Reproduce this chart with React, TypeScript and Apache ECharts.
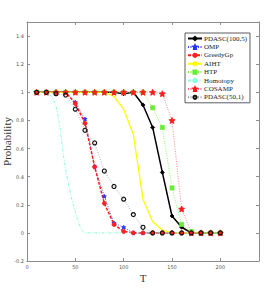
import React, { useEffect, useRef } from "react";
import * as echarts from "echarts";

const T = [10, 20, 30, 40, 50, 60, 70, 80, 90, 100, 110, 120, 130, 140, 150, 160, 170, 180, 190, 200];
const pdasc1005 = [1, 1, 1, 1, 1, 1, 1, 1, 1, 0.99, 1, 0.91, 0.75, 0.43, 0.12, 0.04, 0, 0, 0, 0];
const omp = [1, 1, 1, 1, 0.93, 0.81, 0.47, 0.26, 0.07, 0.04, 0, 0, 0, 0, 0, 0, 0, 0, 0, 0];
const greedyGp = [1, 1, 1, 1, 0.92, 0.78, 0.47, 0.21, 0.06, 0.01, 0, 0, 0, 0, 0, 0, 0, 0, 0, 0];
const aiht = [1, 1, 1, 1, 1, 1, 1, 1, 0.97, 0.88, 0.7, 0.24, 0.08, 0.02, 0, 0, 0, 0, 0, 0];
const htp = [1, 1, 1, 1, 1, 1, 1, 1, 1, 1, 1, 1, 0.89, 0.75, 0.32, 0.06, 0.01, 0, 0, 0];
const homotopy = [1, 1, 0.9, 0.45, 0.15, 0, 0, 0, 0, 0, 0, 0, 0, 0, 0, 0, 0, 0, 0, 0];
const cosamp = [1, 1, 1, 1, 1, 1, 1, 1, 1, 1, 1, 1, 1, 0.99, 0.8, 0.17, 0, 0, 0, 0];
const pdasc501 = [1, 1, 0.99, 0.98, 0.88, 0.73, 0.64, 0.44, 0.33, 0.24, 0.13, 0.04, 0, 0, 0, 0, 0, 0, 0, 0];

const xTicks = [0, 50, 100, 150, 200];
const yTicks = [-0.2, 0, 0.2, 0.4, 0.6, 0.8, 1, 1.2, 1.4];

const pair = (ys: number[]) => T.map((t, i) => [t, ys[i]]);

export default function App() {
  const ref = useRef<HTMLDivElement>(null);
  useEffect(() => {
    if (!ref.current) return;
    const chart = echarts.init(ref.current, null, { renderer: "svg" });
    const serif = "Liberation Serif";
    const axisColor = "#8c8c8c";
    const baseX = {
      type: "value" as const,
      min: 0,
      max: 240,
      interval: 50,
      axisLine: { show: true, onZero: false, lineStyle: { color: axisColor, width: 1 } },
      axisTick: { show: true, inside: true, length: 3, lineStyle: { color: axisColor } },
      splitLine: { show: false },
    };
    const baseY = {
      type: "value" as const,
      min: -0.2,
      max: 1.5,
      interval: 0.2,
      axisLine: { show: true, onZero: false, lineStyle: { color: axisColor, width: 1 } },
      axisTick: { show: true, inside: true, length: 3, lineStyle: { color: axisColor } },
      splitLine: { show: false },
    };
    const star = "path://M0,-10L2.9,-4L9.5,-3.1L4.8,1.5L5.9,8.1L0,5L-5.9,8.1L-4.8,1.5L-9.5,-3.1L-2.9,-4Z";
    const mk = (
      name: string,
      ys: number[],
      color: string,
      lineType: any,
      width: number,
      symbol: string,
      size: number,
      mColor: string,
      filled = true,
      smooth: number | boolean = false
    ) => ({
      name,
      type: "line",
      data: pair(ys),
      smooth,
      symbol,
      symbolSize: size,
      showSymbol: symbol !== "none",
      lineStyle: { color, type: lineType, width },
      itemStyle: filled
        ? { color: mColor, borderColor: mColor, borderWidth: 0.8 }
        : { color: "rgba(255,255,255,0)", borderColor: mColor, borderWidth: 1.2 },
      color,
      z: 2,
    });
    chart.setOption({
      animation: false,
      backgroundColor: "#ffffff",
      grid: { left: 27, right: 16, top: 22, bottom: 34, containLabel: false, outerBoundsMode: "none" },
      xAxis: [
        {
          ...baseX,
          position: "bottom",
          axisLabel: {
            show: true,
            fontSize: 5,
            color: "#555",
            margin: 3,
            fontFamily: "DejaVu Sans",
            formatter: (v: number) => (xTicks.includes(v) ? String(v) : ""),
          },
          name: "T",
          nameLocation: "middle",
          nameGap: 11,
          nameMoveOverlap: false,
          nameTextStyle: { fontFamily: serif, fontSize: 11, color: "#333" },
        },
        { ...baseX, position: "top", axisLabel: { show: false } },
      ],
      yAxis: [
        {
          ...baseY,
          position: "left",
          axisLabel: {
            show: true,
            fontSize: 5,
            color: "#555",
            margin: 3,
            fontFamily: "DejaVu Sans",
            formatter: (v: number) => {
              const r = Math.round(v * 10) / 10;
              return yTicks.some((t) => Math.abs(t - r) < 1e-6) && Math.abs(v - r) < 1e-6 ? String(r) : "";
            },
          },
          name: "Probability",
          nameLocation: "middle",
          nameGap: 15,
          nameMoveOverlap: false,
          nameTextStyle: { fontFamily: serif, fontSize: 11, color: "#333" },
        },
        { ...baseY, position: "right", axisLabel: { show: false } },
      ],
      legend: {
        show: true,
        orient: "vertical",
        left: 185,
        top: 33,
        width: 66,
        itemWidth: 14,
        itemHeight: 4,
        itemGap: 1.4,
        padding: [2, 3, 2, 2],
        backgroundColor: "#fff",
        borderColor: "#333",
        borderWidth: 0.8,
        textStyle: { fontFamily: serif, fontSize: 7, color: "#222", padding: [0, 0, 0, -3] },
        data: ["PDASC(100,5)", "OMP", "GreedyGp", "AIHT", "HTP", "Homotopy", "COSAMP", "PDASC(50,1)"],
      },
      series: [
        mk("PDASC(100,5)", pdasc1005, "#000000", "solid", 1.5, "diamond", 4, "#000"),
        mk("OMP", omp, "#3344ff", [1, 1.5], 0.8, star, 4, "#2233ff"),
        mk("GreedyGp", greedyGp, "#ff1a1a", [3, 1.5], 1.5, "circle", 4, "#ff2020"),
        mk("AIHT", aiht, "#ffff00", "solid", 1.3, "none", 0, "#ffff00"),
        mk("HTP", htp, "#66ff33", [1, 1.5], 0.8, "rect", 4, "#66ee33"),
        mk("Homotopy", homotopy, "#88ffdd", [3, 1.5, 1, 1.5], 1, "none", 0, "#88ffdd", true, 0.3),
        mk("COSAMP", cosamp, "#ff6666", [1, 1.5], 0.8, star, 6, "#ff1a1a"),
        mk("PDASC(50,1)", pdasc501, "#999999", [1, 1.5], 0.8, "circle", 4, "#111111", false),
      ],
    });
    return () => chart.dispose();
  }, []);
  return <div ref={ref} style={{ width: 275, height: 295, position: "absolute", left: 0, top: 0 }} />;
}
